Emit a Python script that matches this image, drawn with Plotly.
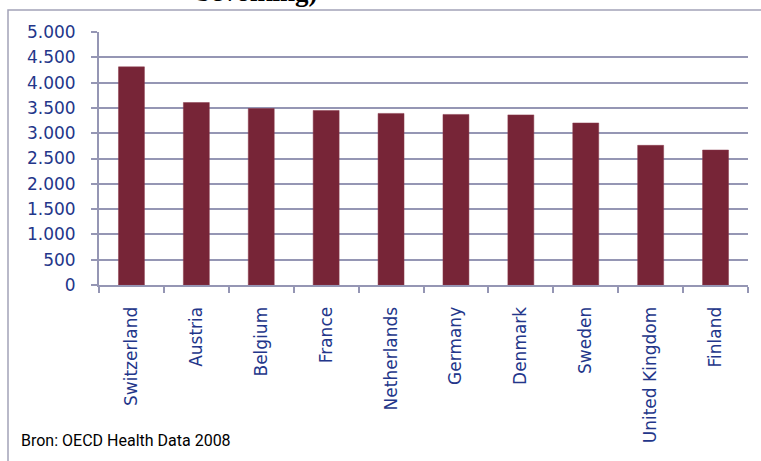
import plotly.graph_objects as go

countries = ['Switzerland', 'Austria', 'Belgium', 'France', 'Netherlands',
             'Germany', 'Denmark', 'Sweden', 'United Kingdom', 'Finland']
spending = [4311, 3606, 3488, 3449, 3391, 3371, 3362, 3202, 2760, 2668]
y_ticks = list(range(0, 5001, 500))

W, H = 761, 461
L, R, T, B = 99, 13, 32, 176
pw, ph = W - L - R, H - T - B


def px_x(x):
    return (x - L) / pw


def px_y(y):
    return (H - B - y) / ph


grid = '#9596b4'
label_blue = '#23368a'

fig = go.Figure(go.Bar(
    x=countries, y=spending,
    marker=dict(color='#772537', line=dict(color='#8a3a4c', width=0.5)),
))

fig.update_layout(
    width=W, height=H,
    margin=dict(l=L, r=R, t=T, b=B, autoexpand=False),
    paper_bgcolor='white', plot_bgcolor='white',
    bargap=0.6, showlegend=False,
    separators=',.',
    font=dict(family='DejaVu Sans, sans-serif'),
    shapes=[dict(type='rect', xref='paper', yref='paper',
                 x0=px_x(8), x1=px_x(800), y0=px_y(500), y1=px_y(10),
                 line=dict(color='#a3a3b8', width=1.5), layer='below')],
    annotations=[
        dict(text='Bron: OECD Health Data 2008', xref='paper', yref='paper',
             x=px_x(19), y=px_y(440), xanchor='left', yanchor='middle',
             showarrow=False,
             font=dict(family='Roboto', size=16, color='black')),
        # title of the slide, only its lower edge is inside the picture
        dict(text='<b>bevolking)</b>', xref='paper', yref='paper',
             x=px_x(257), y=px_y(9), xanchor='center', yanchor='bottom',
             showarrow=False,
             font=dict(family='Liberation Serif', size=27, color='black')),
    ],
)

fig.update_xaxes(
    type='category', tickson='boundaries',
    showline=True, linecolor=grid, linewidth=2,
    ticks='outside', ticklen=6, tickcolor=grid, tickwidth=1.5,
    tickangle=-90, ticklabelstandoff=13,
    tickfont=dict(size=17, color=label_blue),
    showgrid=False,
)
fig.update_yaxes(
    range=[0, 5000], tickvals=y_ticks, tickformat=',d',
    showline=True, linecolor=grid, linewidth=2,
    ticks='outside', ticklen=6, tickcolor=grid, tickwidth=1.5,
    showgrid=True, gridcolor=grid, gridwidth=1.5,
    zeroline=False, ticklabelstandoff=12,
    tickfont=dict(size=17, color=label_blue),
)

# drop the default body margin so the figure fills the window from its corner
fig.write_html('out.html', config={'displayModeBar': False},
               post_script="document.body.style.margin='0px';")
